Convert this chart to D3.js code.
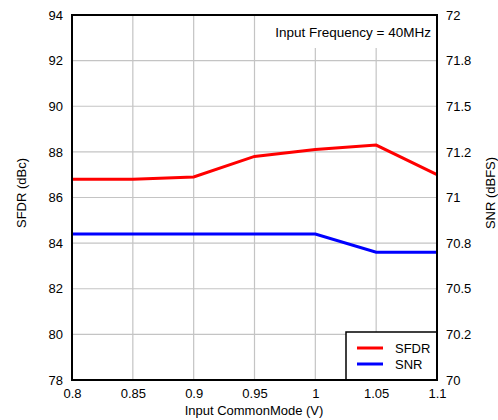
<!DOCTYPE html>
<html><head><meta charset="utf-8">
<script src="https://cdn.jsdelivr.net/npm/d3@7"></script>
<style>body{margin:0;background:#fff}svg{display:block;font-family:"Liberation Sans",Arial,sans-serif}</style>
</head><body><svg id="c" width="498" height="420"></svg>
<script>
const commonMode = [0.8, 0.85, 0.9, 0.95, 1.0, 1.05, 1.1];
const sfdr = [86.8, 86.8, 86.9, 87.8, 88.1, 88.3, 87.0];
const snr = [70.8, 70.8, 70.8, 70.8, 70.8, 70.7, 70.7];
const xTicks = [0.8, 0.85, 0.9, 0.95, 1.0, 1.05, 1.1];
const xTickLabels = ["0.8", "0.85", "0.9", "0.95", "1", "1.05", "1.1"];
const leftTicks = [78, 80, 82, 84, 86, 88, 90, 92, 94];
const rightTicks = [70, 70.25, 70.5, 70.75, 71, 71.25, 71.5, 71.75, 72];
const rightTickLabels = ["70", "70.2", "70.5", "70.8", "71", "71.2", "71.5", "71.8", "72"];

const svg = d3.select("#c");
const L = 72, R = 437, T = 15, B = 380;
const x = d3.scaleLinear().domain([0.8, 1.1]).range([L, R]);
const yL = d3.scaleLinear().domain([78, 94]).range([B, T]);
const yR = d3.scaleLinear().domain([70, 72]).range([B, T]);

// grid
const g = svg.append("g");
g.selectAll(".vg").data(xTicks).join("line")
  .attr("x1", d => x(d)).attr("x2", d => x(d)).attr("y1", T).attr("y2", B)
  .attr("stroke", "#c4c4c4").attr("stroke-width", 1.2);
g.selectAll(".hg").data(leftTicks).join("line")
  .attr("x1", L).attr("x2", R).attr("y1", d => yL(d)).attr("y2", d => yL(d))
  .attr("stroke", "#c4c4c4").attr("stroke-width", 1.2);

// annotation background
svg.append("rect").attr("x", x(0.95) + 1.5).attr("y", T).attr("width", R - x(0.95) - 1.5).attr("height", 33).attr("fill", "#fff");
svg.append("text").attr("x", 431).attr("y", 37).attr("text-anchor", "end")
  .attr("font-size", 13.5).attr("fill", "#000").text("Input Frequency = 40MHz");

// lines
const lineL = d3.line().x((d, i) => x(commonMode[i])).y(d => yL(d));
const lineR = d3.line().x((d, i) => x(commonMode[i])).y(d => yR(d));
svg.append("path").attr("d", lineL(sfdr)).attr("fill", "none").attr("stroke", "#ff0000").attr("stroke-width", 3);
svg.append("path").attr("d", lineR(snr)).attr("fill", "none").attr("stroke", "#0000ff").attr("stroke-width", 3);

// axes
const axB = d3.axisBottom(x).tickValues(xTicks).tickSize(0).tickPadding(9).tickFormat((d, i) => xTickLabels[i]);
const axL = d3.axisLeft(yL).tickValues(leftTicks).tickSize(0).tickPadding(9).tickFormat(d3.format("d"));
const axR = d3.axisRight(yR).tickValues(rightTicks).tickSize(0).tickPadding(9).tickFormat((d, i) => rightTickLabels[i]);
function styleAx(sel) {
  sel.select(".domain").remove();
  sel.selectAll("text").attr("font-size", 13).attr("fill", "#000").attr("font-family", "Liberation Sans, Arial, sans-serif");
}
svg.append("g").attr("transform", `translate(0,${B})`).call(axB).call(styleAx);
svg.append("g").attr("transform", `translate(${L},0)`).call(axL).call(styleAx);
svg.append("g").attr("transform", `translate(${R},0)`).call(axR).call(styleAx);

// legend
const lg = svg.append("g");
lg.append("rect").attr("x", 346).attr("y", 332).attr("width", R - 346).attr("height", B - 332)
  .attr("fill", "#fff").attr("stroke", "#000").attr("stroke-width", 1.5);
const legendItems = [["SFDR", "#ff0000", 348], ["SNR", "#0000ff", 364]];
legendItems.forEach(([name, col, yy]) => {
  lg.append("line").attr("x1", 357).attr("x2", 383).attr("y1", yy).attr("y2", yy).attr("stroke", col).attr("stroke-width", 3);
  lg.append("text").attr("x", 395).attr("y", yy + 4.5).attr("font-size", 13).text(name);
});

// frame
svg.append("rect").attr("x", L).attr("y", T).attr("width", R - L).attr("height", B - T)
  .attr("fill", "none").attr("stroke", "#000").attr("stroke-width", 2);

// axis titles
svg.append("text").attr("transform", "translate(26,193) rotate(-90)").attr("text-anchor", "middle")
  .attr("font-size", 13).text("SFDR (dBc)");
svg.append("text").attr("transform", "translate(495,193) rotate(-90)").attr("text-anchor", "middle")
  .attr("font-size", 13).text("SNR (dBFS)");
svg.append("text").attr("x", 254).attr("y", 415).attr("text-anchor", "middle")
  .attr("font-size", 13).text("Input CommonMode (V)");
</script></body></html>
